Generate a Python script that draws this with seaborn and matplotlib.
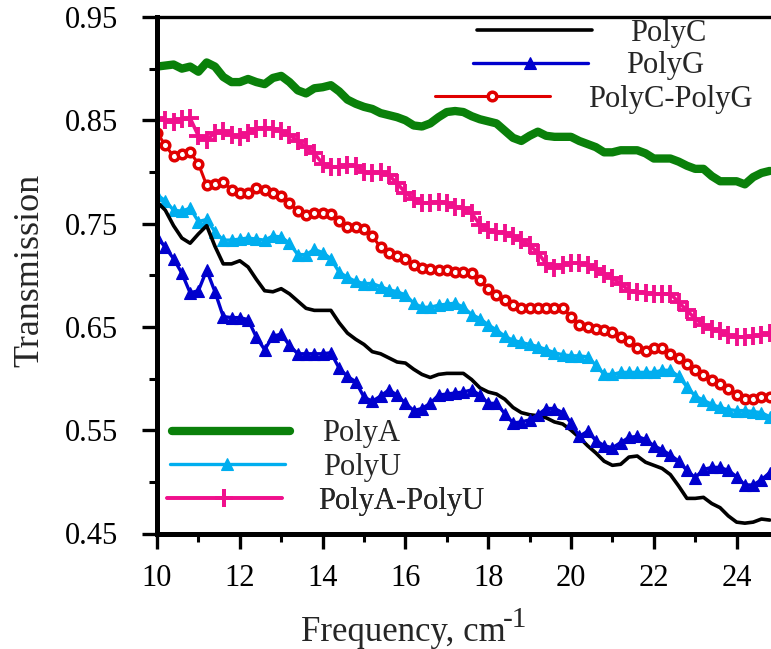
import numpy as np
import pandas as pd
import matplotlib
matplotlib.use("Agg")
import matplotlib.pyplot as plt
from matplotlib.ticker import MultipleLocator, FixedLocator
import seaborn as sns

# ---------------- data ----------------
freq = [10.0, 10.2, 10.4, 10.6, 10.8, 11.0, 11.2, 11.4, 11.6, 11.8,
        12.0, 12.2, 12.4, 12.6, 12.8, 13.0, 13.2, 13.4, 13.6, 13.8,
        14.0, 14.2, 14.4, 14.6, 14.8, 15.0, 15.2, 15.4, 15.6, 15.8,
        16.0, 16.2, 16.4, 16.6, 16.8, 17.0, 17.2, 17.4, 17.6, 17.8,
        18.0, 18.2, 18.4, 18.6, 18.8, 19.0, 19.2, 19.4, 19.6, 19.8,
        20.0, 20.2, 20.4, 20.6, 20.8, 21.0, 21.2, 21.4, 21.6, 21.8,
        22.0, 22.2, 22.4, 22.6, 22.8, 23.0, 23.2, 23.4, 23.6, 23.8,
        24.0, 24.2, 24.4, 24.6, 24.8]

polyA = [0.902, 0.903, 0.904, 0.900, 0.902, 0.897, 0.906, 0.902, 0.892, 0.887,
         0.887, 0.890, 0.887, 0.885, 0.891, 0.893, 0.887, 0.879, 0.876, 0.881,
         0.882, 0.884, 0.878, 0.870, 0.866, 0.863, 0.861, 0.857, 0.855, 0.853,
         0.850, 0.845, 0.844, 0.847, 0.853, 0.858, 0.859, 0.858, 0.854, 0.851,
         0.849, 0.847, 0.840, 0.833, 0.830, 0.835, 0.839, 0.835, 0.834, 0.834,
         0.834, 0.830, 0.827, 0.824, 0.819, 0.819, 0.821, 0.821, 0.821, 0.818,
         0.813, 0.813, 0.813, 0.810, 0.806, 0.803, 0.803, 0.796, 0.791, 0.791,
         0.791, 0.788, 0.795, 0.799, 0.801]

polyAU = [0.852, 0.850, 0.848, 0.851, 0.852, 0.835, 0.831, 0.838, 0.840, 0.836,
          0.834, 0.838, 0.842, 0.843, 0.842, 0.840, 0.836, 0.830, 0.824, 0.818,
          0.808, 0.805, 0.805, 0.807, 0.806, 0.800, 0.799, 0.800, 0.797, 0.789,
          0.780, 0.774, 0.770, 0.770, 0.771, 0.770, 0.766, 0.765, 0.760, 0.749,
          0.744, 0.742, 0.741, 0.738, 0.734, 0.729, 0.722, 0.711, 0.707, 0.710,
          0.712, 0.712, 0.710, 0.706, 0.701, 0.697, 0.692, 0.685, 0.684, 0.683,
          0.682, 0.682, 0.682, 0.674, 0.666, 0.658, 0.652, 0.648, 0.646, 0.642,
          0.640, 0.640, 0.641, 0.642, 0.644]

polyCG = [0.838, 0.826, 0.815, 0.817, 0.819, 0.808, 0.787, 0.788, 0.790, 0.783,
          0.780, 0.780, 0.784, 0.783, 0.780, 0.777, 0.770, 0.762, 0.758, 0.760,
          0.760, 0.759, 0.753, 0.747, 0.747, 0.745, 0.738, 0.727, 0.722, 0.719,
          0.716, 0.710, 0.707, 0.706, 0.705, 0.705, 0.703, 0.703, 0.702, 0.695,
          0.687, 0.681, 0.676, 0.671, 0.668, 0.668, 0.668, 0.668, 0.668, 0.668,
          0.660, 0.652, 0.650, 0.648, 0.647, 0.645, 0.640, 0.636, 0.630, 0.627,
          0.630, 0.630, 0.624, 0.620, 0.614, 0.608, 0.603, 0.599, 0.595, 0.590,
          0.584, 0.580, 0.580, 0.582, 0.582]

polyU = [0.778, 0.772, 0.763, 0.762, 0.765, 0.752, 0.754, 0.742, 0.734, 0.734,
         0.735, 0.736, 0.735, 0.734, 0.738, 0.737, 0.731, 0.720, 0.720, 0.725,
         0.722, 0.716, 0.703, 0.698, 0.694, 0.692, 0.692, 0.689, 0.686, 0.684,
         0.681, 0.673, 0.669, 0.669, 0.671, 0.672, 0.673, 0.669, 0.662, 0.658,
         0.652, 0.647, 0.641, 0.637, 0.635, 0.633, 0.631, 0.628, 0.625, 0.623,
         0.622, 0.622, 0.621, 0.613, 0.604, 0.604, 0.606, 0.606, 0.606, 0.606,
         0.606, 0.608, 0.608, 0.602, 0.592, 0.583, 0.579, 0.575, 0.572, 0.570,
         0.569, 0.569, 0.568, 0.567, 0.563]

polyC = [0.771, 0.763, 0.748, 0.736, 0.731, 0.740, 0.748, 0.728, 0.711, 0.711,
         0.714, 0.708, 0.696, 0.685, 0.684, 0.687, 0.682, 0.675, 0.668, 0.666,
         0.666, 0.666, 0.654, 0.644, 0.638, 0.633, 0.626, 0.624, 0.620, 0.616,
         0.615, 0.609, 0.604, 0.601, 0.604, 0.605, 0.605, 0.605, 0.599, 0.591,
         0.587, 0.585, 0.580, 0.572, 0.567, 0.565, 0.564, 0.562, 0.558, 0.556,
         0.550, 0.543, 0.535, 0.528, 0.520, 0.516, 0.517, 0.524, 0.525, 0.519,
         0.516, 0.513, 0.507, 0.496, 0.484, 0.484, 0.485, 0.479, 0.475, 0.467,
         0.461, 0.460, 0.461, 0.464, 0.463]

polyG = [0.737, 0.727, 0.716, 0.702, 0.683, 0.685, 0.705, 0.684, 0.660, 0.659,
         0.659, 0.657, 0.640, 0.628, 0.641, 0.643, 0.632, 0.624, 0.624, 0.624,
         0.624, 0.625, 0.610, 0.602, 0.597, 0.582, 0.578, 0.583, 0.589, 0.584,
         0.576, 0.569, 0.571, 0.576, 0.584, 0.585, 0.586, 0.587, 0.589, 0.584,
         0.576, 0.576, 0.566, 0.557, 0.558, 0.560, 0.565, 0.571, 0.571, 0.567,
         0.557, 0.544, 0.549, 0.540, 0.535, 0.533, 0.538, 0.543, 0.544, 0.541,
         0.535, 0.531, 0.526, 0.520, 0.511, 0.504, 0.512, 0.514, 0.514, 0.511,
         0.505, 0.497, 0.497, 0.502, 0.509]

ytick_vals = [0.45, 0.55, 0.65, 0.75, 0.85, 0.95]
ytick_labels = ["0.45", "0.55", "0.65", "0.75", "0.85", "0.95"]
xtick_vals = [10, 12, 14, 16, 18, 20, 22, 24]

# ---------------- style ----------------
sns.set_style("ticks")
plt.rcParams["font.family"] = ["Liberation Serif", "DejaVu Serif"]

W, H = 771, 649
fig = plt.figure(figsize=(W / 100, H / 100), dpi=100)
left_px, right_px, top_px, bot_px = 157, 771, 17, 533.5
ax = fig.add_axes([left_px / W, 1 - bot_px / H, (right_px - left_px) / W, (bot_px - top_px) / H])

df = pd.DataFrame({"freq": freq, "PolyA": polyA, "PolyU": polyU,
                   "PolyA-PolyU": polyAU, "PolyC": polyC, "PolyG": polyG,
                   "PolyC-PolyG": polyCG})

styles = {
    "PolyA": dict(color="#0A800A", lw=6.0, marker=None),
    "PolyU": dict(color="#00AEEF", lw=2.4, marker="^", ms=9, mec="#00AEEF", mfc="#00AEEF", mew=0.8),
    "PolyA-PolyU": dict(color="#F0108C", lw=2.6, marker="+", ms=13, mec="#F0108C", mew=2.8),
    "PolyC": dict(color="black", lw=2.6, marker=None),
    "PolyG": dict(color="#0000CD", lw=2.4, marker="^", ms=9, mec="#0000CD", mfc="#0000CD", mew=0.8),
    "PolyC-PolyG": dict(color="#E00000", lw=2.2, marker="o", ms=6.2, mfc="white", mec="#E00000", mew=2.5),
}

handles = {}
for name in ["PolyA", "PolyA-PolyU", "PolyC-PolyG", "PolyU", "PolyC", "PolyG"]:
    st = dict(styles[name])
    color = st.pop("color")
    lw = st.pop("lw")
    marker = st.pop("marker")
    kw = dict(st)
    if marker is not None:
        kw["marker"] = marker
    sns.lineplot(data=df, x="freq", y=name, ax=ax, color=color, linewidth=lw,
                 legend=False, **kw)
    handles[name] = ax.lines[-1]

ax.set_xlim(10, 10 + (right_px - left_px) / 41.4)
ax.set_ylim(0.45, 0.95)

ax.yaxis.set_major_locator(FixedLocator(ytick_vals))
ax.set_yticklabels(ytick_labels)
ax.yaxis.set_minor_locator(MultipleLocator(0.05))
ax.xaxis.set_major_locator(FixedLocator(xtick_vals))
ax.xaxis.set_minor_locator(MultipleLocator(1))

ax.tick_params(axis="both", which="major", direction="out", length=11, width=2.4,
               labelsize=22, color="black", labelcolor="black")
ax.tick_params(axis="y", which="major", pad=17)
ax.tick_params(axis="x", which="major", pad=11)
ax.tick_params(axis="both", which="minor", direction="out", length=6, width=2.2, color="black")

for s in ["left", "bottom"]:
    ax.spines[s].set_linewidth(3.6)
    ax.spines[s].set_color("black")
ax.spines["top"].set_linewidth(2.4)
ax.spines["top"].set_color("black")
ax.spines["right"].set_visible(False)
ax.grid(False)

ax.set_ylabel("Transmission", fontsize=26)
ax.yaxis.set_label_coords((46 - left_px) / (right_px - left_px), (bot_px - 270) / (bot_px - top_px))
ax.set_xlabel("Frequency, cm", fontsize=25)
ax.xaxis.set_label_coords((403 - left_px) / (right_px - left_px), -(616 - bot_px) / (bot_px - top_px))
fig.text(503 / W, 1 - 627 / H, "-1", fontsize=21, ha="left", va="baseline")

# legends: one entry per row
def row_legend(name, x_px, y_px, hl, pad):
    leg = ax.legend([handles[name]], [name], loc="center left",
                    bbox_to_anchor=(x_px / W, 1 - y_px / H), bbox_transform=fig.transFigure,
                    frameon=False, borderpad=0, borderaxespad=0, handlelength=hl,
                    handletextpad=pad, numpoints=1, fontsize=22)
    ax.add_artist(leg)

row_legend("PolyC", 477, 33, 3.76, 1.24)
row_legend("PolyG", 473, 66, 3.76, 1.24)
row_legend("PolyC-PolyG", 435, 99, 3.76, 1.24)
row_legend("PolyA", 172, 434, 3.86, 1.05)
row_legend("PolyU", 170, 467, 3.76, 1.24)
row_legend("PolyA-PolyU", 167, 501, 3.76, 1.2)

fig.savefig("out.png", dpi=100)
